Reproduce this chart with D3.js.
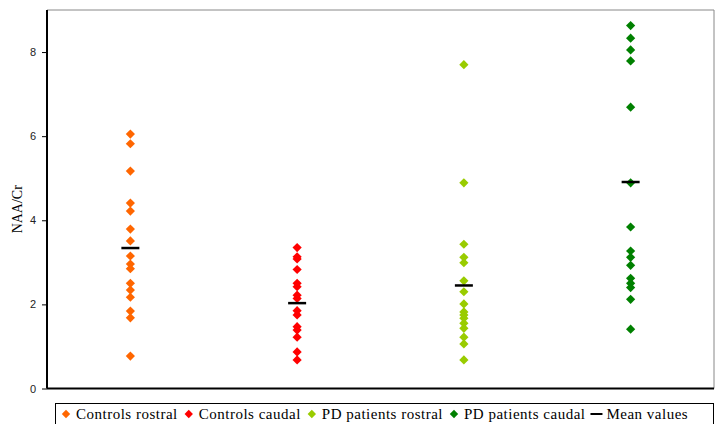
<!DOCTYPE html>
<html><head><meta charset="utf-8">
<script src="https://cdn.jsdelivr.net/npm/d3@7"></script>
<style>body{margin:0;background:#fff}svg{display:block}
.serif{font-family:"Liberation Serif","Times New Roman","DejaVu Serif",serif}
.sans{font-family:"Liberation Sans",Arial,sans-serif}</style>
</head><body><svg id="c" width="724" height="424"></svg>
<script>
const categories = ["Controls rostral", "Controls caudal", "PD patients rostral", "PD patients caudal"];
const colors = ["#FF6600", "#FF0000", "#99CC00", "#008000"];
const controlsRostral = [6.05, 5.82, 5.17, 4.41, 4.22, 3.79, 3.51, 3.15, 2.96, 2.85, 2.50, 2.34, 2.17, 1.84, 1.68, 0.77];
const controlsCaudal = [3.35, 3.13, 3.08, 2.83, 2.50, 2.42, 2.22, 2.14, 1.85, 1.75, 1.47, 1.39, 1.22, 0.87, 0.68];
const pdRostral = [7.70, 4.89, 3.43, 3.12, 2.99, 2.56, 2.30, 2.01, 1.82, 1.75, 1.67, 1.55, 1.43, 1.22, 1.06, 0.68];
const pdCaudal = [8.63, 8.33, 8.05, 7.79, 6.69, 4.89, 3.84, 3.27, 3.12, 2.93, 2.62, 2.50, 2.40, 2.12, 1.41];
const meanValues = [3.34, 2.03, 2.45, 4.91];
const yTicks = [0, 2, 4, 6, 8];
const series = [controlsRostral, controlsCaudal, pdRostral, pdCaudal];

const svg = d3.select("#c");
const L = 47, R = 714, T = 10, B = 388.5;
const x = d3.scaleBand().domain(categories).range([L, R]);
const y = d3.scaleLinear().domain([0, 9]).range([B, T]);

svg.append("path").attr("d", `M${L},${T}H${R}V${B}`).attr("fill", "none").attr("stroke", "#888").attr("stroke-width", 1);

const ya = svg.append("g").attr("transform", `translate(${L},0)`)
  .call(d3.axisLeft(y).tickValues(yTicks).tickSize(5).tickPadding(6).tickFormat(d3.format("d")));
ya.select(".domain").attr("stroke", "#000").attr("stroke-width", 2).attr("d", `M0,${T}V${B}`);
ya.selectAll(".tick line").attr("stroke", "#000").attr("stroke-width", 1);
ya.selectAll(".tick text").attr("class", "sans").attr("font-family", null).attr("font-size", 11).attr("fill", "#222");

svg.append("line").attr("x1", L).attr("x2", R).attr("y1", B).attr("y2", B).attr("stroke", "#000").attr("stroke-width", 2);

svg.append("text").attr("class", "serif").attr("transform", `translate(22,${(T + B) / 2 + 10}) rotate(-90)`)
  .attr("text-anchor", "middle").attr("font-size", 14).text("NAA/Cr");

const diamond = s => `M0,${-s}L${s},0L0,${s}L${-s},0Z`;

series.forEach((vals, i) => {
  const cx = x(categories[i]) + x.bandwidth() / 2;
  svg.append("g").selectAll("path").data(vals).join("path")
    .attr("d", diamond(4.6)).attr("fill", colors[i])
    .attr("transform", d => `translate(${cx},${y(d)})`);
});
svg.append("g").selectAll("line").data(meanValues).join("line")
  .attr("x1", (d, i) => x(categories[i]) + x.bandwidth() / 2 - 9)
  .attr("x2", (d, i) => x(categories[i]) + x.bandwidth() / 2 + 9)
  .attr("y1", d => y(d)).attr("y2", d => y(d))
  .attr("stroke", "#000").attr("stroke-width", 2.5);

const lg = svg.append("g");
lg.append("rect").attr("x", 55.5).attr("y", 403.5).attr("width", 658).attr("height", 30).attr("fill", "#fff").attr("stroke", "#000").attr("stroke-width", 1);
const items = categories.map((c, i) => ({label: c, color: colors[i], type: "d"})).concat([{label: "Mean values", type: "m"}]);
let cx = 66;
items.forEach(it => {
  if (it.type === "d") {
    lg.append("path").attr("d", diamond(4.2)).attr("fill", it.color).attr("transform", `translate(${cx},414)`);
  } else {
    lg.append("line").attr("x1", cx - 6).attr("x2", cx + 6).attr("y1", 414).attr("y2", 414).attr("stroke", "#000").attr("stroke-width", 2);
  }
  const t = lg.append("text").attr("class", "serif").attr("x", cx + 10).attr("y", 419).attr("font-size", 15)
    .attr("letter-spacing", 0.5).attr("fill", "#000").text(it.label);
  cx += 10 + t.node().getComputedTextLength() + 11;
});
</script></body></html>
